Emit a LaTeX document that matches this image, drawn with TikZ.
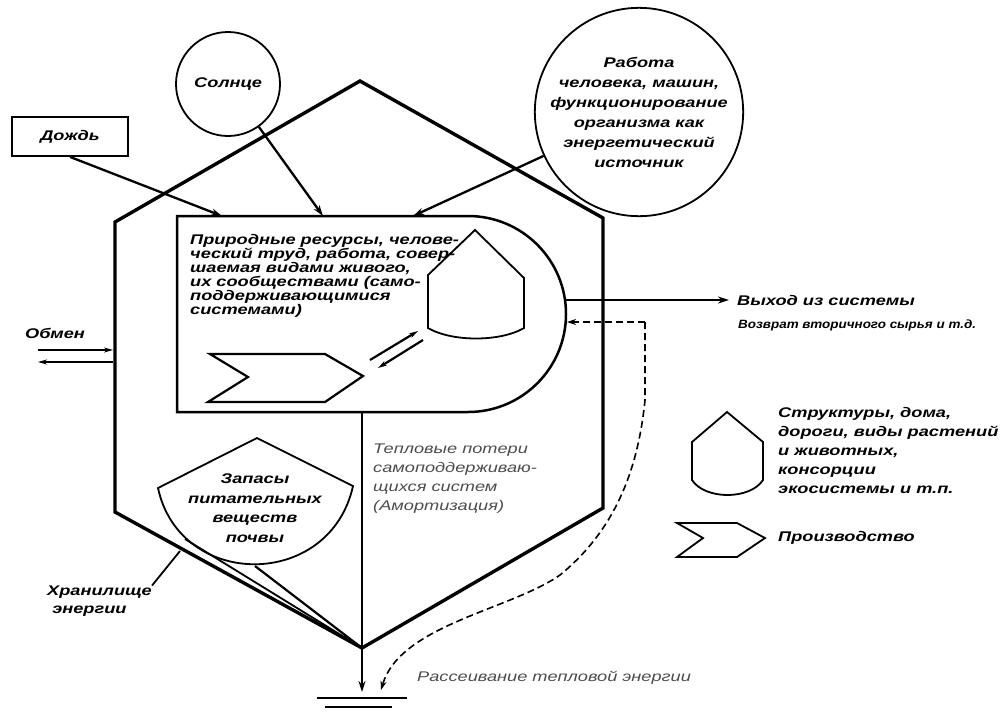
\documentclass[tikz,border=0pt]{standalone}
\usepackage{fontspec}
\setmainfont{Liberation Sans}
\newfontfamily\lab[FakeStretch=1.3]{Liberation Sans}
\newfontfamily\labn[FakeStretch=1.12]{Liberation Sans}
\usetikzlibrary{arrows.meta}
\begin{document}
\begin{tikzpicture}[x=1pt,y=-1pt,
  lbl/.style={font=\lab\bfseries\itshape\fontsize{14}{19.5}\selectfont, inner sep=0pt},
  lblt/.style={font=\lab\bfseries\itshape\fontsize{14}{14}\selectfont, inner sep=0pt},
  lite/.style={font=\lab\itshape\fontsize{14}{19}\selectfont, text=black!70, inner sep=0pt},
  hexline/.style={line width=3.4pt, line join=miter},
  ln/.style={line width=1.8pt},
  arr/.style={-{Stealth[length=11pt,width=7pt]}, line width=2.3pt},
  sarr/.style={-{Stealth[length=9pt,width=5pt]}, line width=2.2pt},
  dsh/.style={line width=1.6pt, dash pattern=on 7pt off 4pt},
]
\useasboundingbox (0,0) rectangle (1008,713);

% sources
\node[draw, ln, minimum width=116pt, minimum height=39pt, lbl] (rain) at (70,136.5) {Дождь};
\node[draw, ln, circle, minimum size=104pt, lbl] (sun) at (228,84) {Солнце};
\node[draw, ln, circle, minimum size=201pt, lbl, align=center,
      font=\lab\bfseries\itshape\fontsize{14}{20}\selectfont] (work) at (639,112)
  {Работа\\человека, машин,\\функционирование\\организма как\\энергетический\\источник};

% system boundary (hexagon)
\coordinate (ht) at (360,81);
\coordinate (hr1) at (603,218);
\coordinate (hr2) at (603,508);
\coordinate (hb) at (362,648);
\coordinate (hl2) at (115,512);
\coordinate (hl1) at (115,222);
\draw[hexline] (ht) -- (hr1) -- (hr2) -- (hb) -- (hl2) -- (hl1) -- cycle;

% inner D-shaped box
\draw[line width=2.5pt] (177,216) -- (468,216) arc[start angle=-90, end angle=90, radius=98] -- (177,412) -- cycle;
\node[lblt, anchor=west, align=left] (res) at (190,276)
  {Природные ресурсы, челове-\\ческий труд, работа, совер-\\шаемая видами живого,\\их сообществами (само-\\поддерживающимися\\системами)};

% structure (pentagon) in box
\draw[ln] (475,230) -- (524,278) -- (524,328) .. controls (500,342) and (452,342) .. (428,328) -- (428,275) -- cycle;
% production in box
\draw[line width=2.2pt] (210,354) -- (325,354) -- (363,376) -- (325,402) -- (208,402) -- (248,377) -- cycle;
% exchange arrows
\coordinate (e1) at (370,360);
\coordinate (e2) at (418,331);
\coordinate (e3) at (423,340);
\coordinate (e4) at (378,368);
\draw[sarr] (e1) -- (e2);
\draw[sarr] (e3) -- (e4);

% inputs
\coordinate (d1) at (222,216);
\coordinate (d2) at (323,216);
\coordinate (d3) at (413,216);
\draw[arr] (rain.south) -- (d1);
\draw[arr] (sun) -- (d2);
\draw[arr] (work) -- (d3);

% exchange at left
\node[lbl] (obm) at (55,333) {Обмен};
\coordinate (o1) at (38,350);
\coordinate (o2) at (113,350);
\coordinate (o3) at (113,362);
\coordinate (o4) at (38,362);
\draw[sarr] (o1) -- (o2);
\draw[sarr] (o3) -- (o4);

% output
\coordinate (dE) at (565,300);
\node[lbl, anchor=west] (out) at (737,300) {Выход из системы};
\draw[arr, shorten >=8pt] (dE) -- (out.west);
\node[lbl, anchor=west, font=\labn\bfseries\itshape\fontsize{12}{14}\selectfont] (ret) at (738,325) {Возврат вторичного сырья и т.д.};
\coordinate (r1) at (645,322);
\coordinate (dR) at (567,322);
\draw[dsh, -{Stealth[length=9pt,width=6pt]}] (r1) -- (dR);

% heat sink
\coordinate (dB) at (362,412);
\coordinate (g) at (362,692);
\coordinate (gd) at (381,690);
\draw[arr, line width=1.8pt] (dB) -- (g);
\draw[line width=2.6pt] (317,698) -- (407,698);
\draw[line width=2.6pt] (325,707) -- (392,707);
\draw[dsh, -{Stealth[length=9pt,width=6pt]}] (r1) -- (645,400) .. controls (638,470) and (615,530) .. (560,575) .. controls (510,610) and (400,625) .. (gd);

% storage
\draw[ln] (257,438) -- (353,486) .. controls (330,590) and (180,590) .. (158,488) -- cycle;
\node[lbl, align=center] (stor) at (255,508) {Запасы\\питательных\\веществ\\почвы};
\coordinate (s1) at (185,539);
\coordinate (s2) at (255,566);
\draw[ln] (s1) -- (hb);
\draw[line width=2.2pt] (s2) -- (hb);
\coordinate (sp) at (180,551);
\node[lbl, anchor=west, align=left, font=\lab\bfseries\itshape\fontsize{14}{18}\selectfont] (store) at (47,601) {Хранилище\\\ энергии};
\draw[ln] (sp) -- (store.north east);

% texts of heat
\node[lite, anchor=west, align=left] (heat) at (373,478.5) {Тепловые потери\\самоподдерживаю-\\щихся систем\\(Амортизация)};
\node[lite, anchor=west] (diss) at (417,678) {Рассеивание тепловой энергии};

% legend
\draw[ln] (727,412) -- (763,442) -- (763,480) .. controls (750,500) and (705,500) .. (692,480) -- (692,442) -- cycle;
\node[lbl, anchor=west, align=left, font=\lab\bfseries\itshape\fontsize{14}{19}\selectfont] (leg1) at (778,450.5)
  {Структуры, дома,\\дороги, виды растений\\и животных,\\консорции\\экосистемы и т.п.};
\draw[ln] (677,523) -- (737,523) -- (765,538) -- (737,557) -- (677,557) -- (703,538) -- cycle;
\node[lbl, anchor=west] (leg2) at (778,538) {Производство};
\end{tikzpicture}
\end{document}
